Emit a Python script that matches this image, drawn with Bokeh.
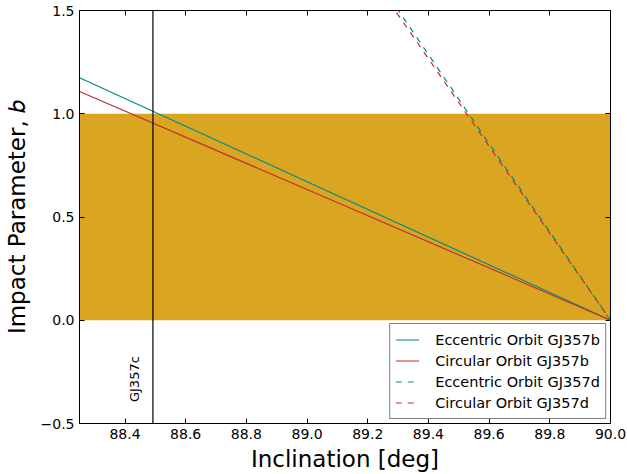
from bokeh.plotting import figure
from bokeh.models import Range1d, LinearAxis, Label, Span, Legend, LegendItem, FixedTicker, CustomJSTickFormatter, BoxAnnotation
from bokeh.embed import file_html
from bokeh.resources import INLINE

# Data
incl_b = [88.25, 89.0, 90.0]
ecc_b = [1.174, 0.671, 0.0]
circ_b = [1.108, 0.633, 0.0]
incl_d = [89.25, 89.6, 90.0]
ecc_d = [1.61, 0.855, 0.0]
circ_d = [1.585, 0.842, 0.0]
gj357c_incl = 88.492
xticks = [88.4, 88.6, 88.8, 89.0, 89.2, 89.4, 89.6, 89.8, 90.0]
yticks = [-0.5, 0.0, 0.5, 1.0, 1.5]

FONT = "DejaVu Sans"
TEAL = "#008B8B"
RED = "#c0302e"

p = figure(width=627, height=474, output_backend="svg", toolbar_location=None,
           x_range=Range1d(88.25, 90.0), y_range=Range1d(-0.5, 1.5),
           min_border_left=77, min_border_right=17, min_border_top=10, min_border_bottom=50)
p.grid.visible = False
p.background_fill_color = "white"
p.border_fill_color = "white"
p.outline_line_color = "black"
p.outline_line_width = 1

fmt = CustomJSTickFormatter(code="return tick.toFixed(1).replace('-', '\u2212');")
for ax, ticks in ((p.xaxis[0], xticks), (p.yaxis[0], yticks)):
    ax.ticker = FixedTicker(ticks=ticks)
    ax.formatter = fmt
    ax.major_tick_in = 5
    ax.major_tick_out = 0
    ax.minor_tick_line_color = None
    ax.major_label_text_font = FONT
    ax.major_label_text_font_size = "14px"
    ax.major_label_text_color = "black"
    ax.axis_line_color = "black"
    ax.major_tick_line_color = "black"
    ax.axis_label_text_font = FONT
    ax.axis_label_text_font_size = "23px"
    ax.axis_label_text_font_style = "normal"
    ax.axis_label_text_color = "black"
p.xaxis[0].axis_label = "Inclination [deg]"
p.yaxis[0].axis_label = "Impact Parameter, \U0001D44F"
p.xaxis[0].major_label_standoff = 5
p.yaxis[0].major_label_standoff = 5
p.xaxis[0].axis_label_standoff = 4
p.yaxis[0].axis_label_standoff = 8

blank = CustomJSTickFormatter(code="return '';")
top = LinearAxis(ticker=FixedTicker(ticks=xticks), formatter=blank,
                 major_tick_in=5, major_tick_out=0, minor_tick_line_color=None,
                 axis_line_color="black", major_tick_line_color="black")
right = LinearAxis(ticker=FixedTicker(ticks=yticks), formatter=blank,
                   major_tick_in=5, major_tick_out=0, minor_tick_line_color=None,
                   axis_line_color="black", major_tick_line_color="black")
p.add_layout(top, "above")
p.add_layout(right, "right")

p.add_layout(BoxAnnotation(bottom=0.0, top=1.0, fill_color="#DAA520", fill_alpha=1.0,
                           line_color=None, level="underlay"))

r1 = p.line(incl_b, ecc_b, line_color=TEAL, line_width=1.2)
r2 = p.line(incl_b, circ_b, line_color=RED, line_width=1.2)
r3 = p.line(incl_d, ecc_d, line_color=TEAL, line_width=1.2, line_dash="6 6")
r4 = p.line(incl_d, circ_d, line_color=RED, line_width=1.2, line_dash="6 6")

p.add_layout(Span(location=gj357c_incl, dimension="height", line_color="black", line_width=1.2))
p.add_layout(Label(x=gj357c_incl, y=-0.285, text="GJ357c", angle=1.5708, text_font=FONT,
                   text_font_size="13px", text_align="center", text_baseline="bottom",
                   x_offset=-11, text_color="black"))

legend = Legend(items=[
    LegendItem(label="Eccentric Orbit GJ357b", renderers=[r1]),
    LegendItem(label="Circular Orbit GJ357b", renderers=[r2]),
    LegendItem(label="Eccentric Orbit GJ357d", renderers=[r3]),
    LegendItem(label="Circular Orbit GJ357d", renderers=[r4]),
], location="bottom_right")
legend.label_text_font = FONT
legend.label_text_font_size = "14.5px"
legend.label_text_color = "black"
legend.border_line_color = "black"
legend.border_line_width = 1
legend.background_fill_alpha = 1.0
legend.spacing = 0
legend.padding = 5
legend.margin = 4
legend.glyph_width = 24
legend.glyph_height = 21
legend.label_height = 21
legend.label_standoff = 16
p.add_layout(legend)

open("out.html", "w").write(file_html(p, INLINE))
